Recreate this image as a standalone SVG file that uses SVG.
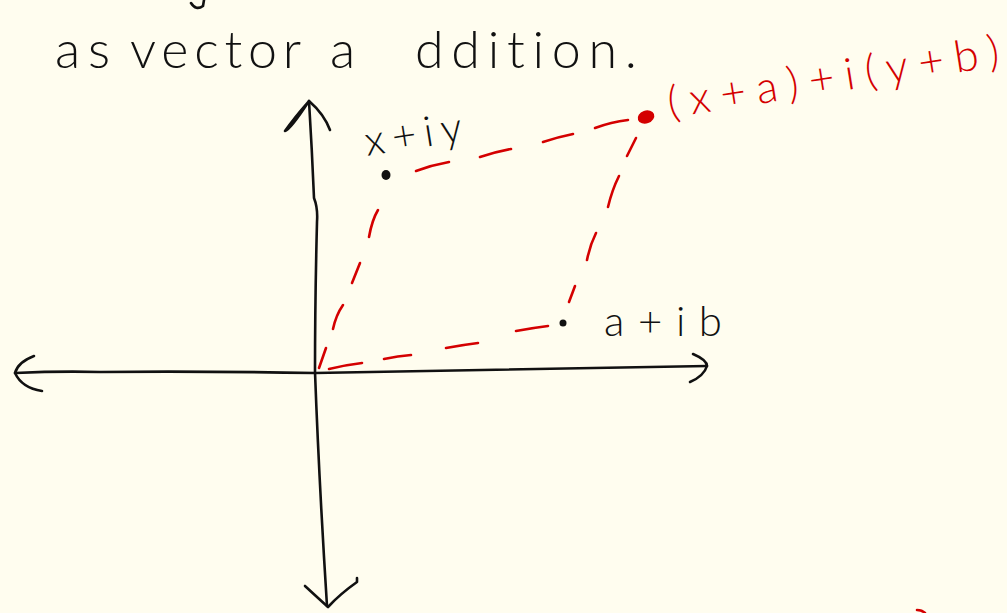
<svg xmlns="http://www.w3.org/2000/svg" width="1007" height="613" viewBox="0 0 1007 613">
  <style>
    .ink { fill: none; stroke: #111; stroke-width: 2.6; stroke-linecap: round; stroke-linejoin: round; }
    .red { fill: none; stroke: #d40000; stroke-width: 2.6; stroke-linecap: round; stroke-linejoin: round; }
    .hand { font-family: "Lato", "Liberation Sans", "DejaVu Sans", sans-serif; font-weight: 300; fill: #111; font-variant-ligatures: none; }
    .handred { font-family: "Lato", "Liberation Sans", "DejaVu Sans", sans-serif; font-weight: 300; fill: #d40000; font-variant-ligatures: none; }
  </style>
  <rect x="0" y="0" width="1007" height="613" fill="#fffdef"/>

  <g id="title">
    <text class="hand" font-size="52" y="68">
      <tspan x="55" textLength="55" lengthAdjust="spacing">as</tspan>
      <tspan x="130" textLength="170" lengthAdjust="spacing">vector</tspan>
      <tspan x="330" textLength="30" lengthAdjust="spacing">a</tspan>
      <tspan x="415" textLength="222" lengthAdjust="spacing">ddition.</tspan>
    </text>
    <path class="ink" d="M191,3 Q196,11 203,6 L204,0"/>
  </g>

  <g id="axes">
    <path class="ink" d="M309,101 Q312,150 314,198 Q318,208 317,222 Q315,300 315,372 Q319,480 327,606"/>
    <path class="ink" d="M309,101 Q294,118 285,131 Q290,130 309,101 Q324,114 330,130"/>
    <path class="ink" d="M305,586 Q318,598 328,607 Q340,594 357,582 L357,578"/>
    <path class="ink" d="M15,373 Q60,371 100,372 Q200,371 315,373 Q500,370 707,366"/>
    <path class="ink" d="M34,356 Q18,362 15,373 Q22,388 42,391"/>
    <path class="ink" d="M693,354 Q707,360 707,366 Q704,376 690,382"/>
  </g>

  <g id="connectors">
    <path class="red" d="M319,368 L326,348"/>
    <path class="red" d="M333,329 Q336,315 343,305"/>
    <path class="red" d="M352,283 L360,263"/>
    <path class="red" d="M369,237 Q372,220 378,210"/>
    <path class="red" d="M329,369 Q345,365 362,363"/>
    <path class="red" d="M384,359 Q398,356 411,355"/>
    <path class="red" d="M446,348 Q462,345 478,343"/>
    <path class="red" d="M516,331 Q532,328 548,326"/>
    <path class="red" d="M416,171 Q432,165 449,162"/>
    <path class="red" d="M480,157 Q495,152 511,149"/>
    <path class="red" d="M543,142 Q558,137 573,134"/>
    <path class="red" d="M595,128 Q611,122 628,120"/>
    <path class="red" d="M636,138 L627,156"/>
    <path class="red" d="M619,176 Q612,190 608,207"/>
    <path class="red" d="M596,233 Q590,245 587,260"/>
    <path class="red" d="M575,286 L569,302"/>
  </g>

  <g id="point-xiy">
    <ellipse cx="386" cy="175" rx="4.5" ry="5" fill="#111"/>
    <text class="hand" font-size="42" x="367" y="156" transform="rotate(-9 367 156)" textLength="98" lengthAdjust="spacing">x+iy</text>
  </g>

  <g id="point-aib">
    <circle cx="563" cy="323" r="3.5" fill="#111"/>
    <text class="hand" font-size="42" x="604" y="336" textLength="118" lengthAdjust="spacing">a+ib</text>
  </g>

  <g id="point-sum">
    <ellipse cx="646" cy="117" rx="8.5" ry="6.5" transform="rotate(-20 646 117)" fill="#d40000"/>
    <text class="handred" font-size="44" x="670" y="118" transform="rotate(-9 670 118)" textLength="335" lengthAdjust="spacing">(x+a)+i(y+b)</text>
  </g>

  <path class="red" d="M917,610 Q922,610 925,613"/>
</svg>
